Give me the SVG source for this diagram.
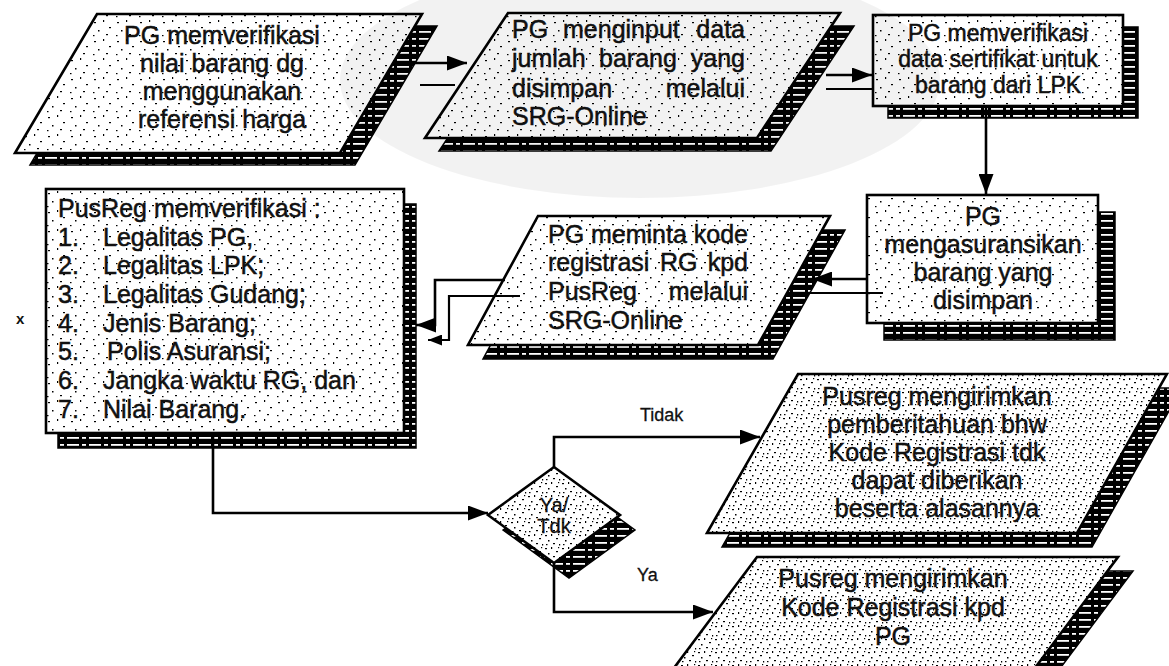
<svg xmlns="http://www.w3.org/2000/svg" width="1169" height="666" viewBox="0 0 1169 666">
<style>
  .t { font-family: "Liberation Sans", Arial, sans-serif; font-size: 25px; fill: #111; stroke: #111; stroke-width: 0.5px; }
  .t23 { font-family: "Liberation Sans", Arial, sans-serif; font-size: 23px; fill: #111; stroke: #111; stroke-width: 0.5px; }
  .lbl { font-family: "Liberation Sans", Arial, sans-serif; font-size: 18px; fill: #111; stroke: #111; stroke-width: 0.3px; }
  .c { text-anchor: middle; }
  .e { text-anchor: end; }
  .shape { stroke: #000; stroke-width: 2.6; stroke-linejoin: miter; }
  .base { fill: #fff; }
  .sp { fill: url(#speck); }
  .sp2 { fill: url(#speck2); }
  .sh { fill: url(#stripe); stroke: #000; stroke-width: 1.5; }
  .conn { fill: none; stroke: #000; stroke-width: 2.6; }
  .conn2 { fill: none; stroke: #000; stroke-width: 2.2; }
</style>
<defs>
  <pattern id="speck" width="23" height="19" patternUnits="userSpaceOnUse">
    <rect x="2" y="3" width="2" height="1.2" fill="#000"/>
    <rect x="11" y="1" width="1.2" height="2" fill="#000"/>
    <rect x="17" y="8" width="2" height="1.2" fill="#000"/>
    <rect x="6" y="11" width="1.5" height="1.5" fill="#000"/>
    <rect x="14" y="15" width="2" height="1.2" fill="#000"/>
    <rect x="1" y="16" width="1.5" height="1.2" fill="#000"/>
  </pattern>
  <pattern id="speck2" width="17" height="13" patternUnits="userSpaceOnUse">
    <rect x="1" y="2" width="2" height="1.2" fill="#000"/>
    <rect x="7" y="1" width="1.2" height="2" fill="#000"/>
    <rect x="12" y="5" width="2" height="1.2" fill="#000"/>
    <rect x="4" y="7" width="1.5" height="1.5" fill="#000"/>
    <rect x="9" y="10" width="2" height="1.2" fill="#000"/>
    <rect x="15" y="11" width="1.2" height="1.5" fill="#000"/>
    <rect x="2" y="11" width="1.5" height="1.2" fill="#000"/>
    <rect x="14" y="1" width="1.2" height="1.2" fill="#000"/>
  </pattern>
  <pattern id="stripe" width="22" height="7" patternUnits="userSpaceOnUse">
    <rect width="22" height="7" fill="#000"/>
    <rect x="1" y="3" width="12" height="1.8" fill="#fff"/>
    <rect x="16" y="3" width="4" height="1.8" fill="#fff"/>
  </pattern>
  <marker id="ah" viewBox="0 0 20 15" refX="20" refY="7.5" markerWidth="20" markerHeight="15" markerUnits="userSpaceOnUse" orient="auto">
    <path d="M0,0 L20,7.5 L0,15 z" fill="#000"/>
  </marker>
  <marker id="ah2" viewBox="0 0 14 11" refX="14" refY="5.5" markerWidth="14" markerHeight="11" markerUnits="userSpaceOnUse" orient="auto">
    <path d="M0,0 L14,5.5 L0,11 z" fill="#000"/>
  </marker>
</defs>
<rect width="1169" height="666" fill="#fff"/>

<g id="n1">
  <polygon class="sh" points="112,26 437,26 355,165 30,165"/>
  <polygon class="shape base" points="97,14 422,14 340,153 15,153"/>
  <polygon class="sp" points="97,14 422,14 340,153 15,153"/>
  <text class="t c" x="222" y="44">PG memverifikasi</text>
  <text class="t c" x="222" y="72">nilai barang dg</text>
  <text class="t c" x="222" y="100">menggunakan</text>
  <text class="t c" x="222" y="128">referensi harga</text>
</g>

<g id="n2">
  <polygon class="sh" points="522,26 854,26 771,151 439,151"/>
  <polygon class="shape base" points="508,13 840,13 757,138 425,138"/>
  <polygon class="sp" points="508,13 840,13 757,138 425,138"/>
  <text class="t" x="512" y="38">PG</text>
  <text class="t" x="563" y="38">menginput</text>
  <text class="t e" x="745" y="38">data</text>
  <text class="t" x="512" y="67">jumlah</text>
  <text class="t" x="599" y="67">barang</text>
  <text class="t e" x="745" y="67">yang</text>
  <text class="t" x="512" y="97">disimpan</text>
  <text class="t e" x="745" y="97">melalui</text>
  <text class="t" x="512" y="125">SRG-Online</text>
</g>

<g id="n3">
  <rect class="sh" x="888" y="27" width="250" height="91"/>
  <rect class="shape base" x="873" y="15" width="250" height="91"/>
  <rect class="sp" x="873" y="15" width="250" height="91"/>
  <text class="t23 c" x="998" y="41">PG memverifikasi</text>
  <text class="t23 c" x="998" y="67">data sertifikat untuk</text>
  <text class="t23 c" x="998" y="93">barang dari LPK</text>
</g>

<g id="n4">
  <rect class="sh" x="884" y="212" width="231" height="128"/>
  <rect class="shape base" x="867" y="195" width="231" height="128"/>
  <rect class="sp" x="867" y="195" width="231" height="128"/>
  <text class="t c" x="983" y="225">PG</text>
  <text class="t c" x="983" y="253">mengasuransikan</text>
  <text class="t c" x="983" y="281">barang yang</text>
  <text class="t c" x="983" y="309">disimpan</text>
</g>

<g id="n5">
  <rect class="sh" x="58" y="204" width="358" height="244"/>
  <rect class="shape base" x="46" y="189" width="358" height="244"/>
  <rect class="sp" x="46" y="189" width="358" height="244"/>
  <text class="t" x="58" y="217">PusReg memverifikasi :</text>
  <text class="t" x="58" y="246">1.</text><text class="t" x="103" y="246">Legalitas PG,</text>
  <text class="t" x="58" y="274">2.</text><text class="t" x="103" y="274">Legalitas LPK;</text>
  <text class="t" x="58" y="303">3.</text><text class="t" x="103" y="303">Legalitas Gudang;</text>
  <text class="t" x="58" y="332">4.</text><text class="t" x="103" y="332">Jenis Barang;</text>
  <text class="t" x="58" y="360">5.</text><text class="t" x="107" y="360">Polis Asuransi;</text>
  <text class="t" x="58" y="389">6.</text><text class="t" x="103" y="389">Jangka waktu RG, dan</text>
  <text class="t" x="58" y="418">7.</text><text class="t" x="103" y="418">Nilai Barang.</text>
</g>

<g id="n6">
  <polygon class="sh" points="553,230 845,230 773,359 483,359"/>
  <polygon class="shape base" points="538,216 830,216 758,345 468,345"/>
  <polygon class="sp" points="538,216 830,216 758,345 468,345"/>
  <text class="t" x="548" y="243">PG</text>
  <text class="t" x="591" y="243">meminta</text>
  <text class="t e" x="748" y="243">kode</text>
  <text class="t" x="548" y="271">registrasi</text>
  <text class="t" x="660" y="271">RG</text>
  <text class="t e" x="748" y="271">kpd</text>
  <text class="t" x="548" y="300">PusReg</text>
  <text class="t e" x="748" y="300">melalui</text>
  <text class="t" x="548" y="329">SRG-Online</text>
</g>

<g id="decision">
  <polygon class="sh" points="503,530 569,482 635,530 569,578"/>
  <polygon class="shape base" points="488,515 554,467 620,515 554,563"/>
  <polygon class="sp2" points="488,515 554,467 620,515 554,563"/>
  <text class="lbl c" x="554" y="512" style="font-size:20px">Ya/</text>
  <text class="lbl c" x="554" y="533" style="font-size:20px">Tdk</text>
</g>

<g id="n7">
  <polygon class="sh" points="813,388 1182,388 1092,547 722,547"/>
  <polygon class="shape base" points="798,374 1167,374 1077,533 707,533"/>
  <polygon class="sp2" points="798,374 1167,374 1077,533 707,533"/>
  <text class="t c" x="937" y="405">Pusreg mengirimkan</text>
  <text class="t c" x="937" y="433">pemberitahuan bhw</text>
  <text class="t c" x="937" y="461">Kode Registrasi tdk</text>
  <text class="t c" x="937" y="489">dapat diberikan</text>
  <text class="t c" x="937" y="517">beserta alasannya</text>
</g>

<g id="n8">
  <polygon class="sh" points="772,571 1133,571 1011,734 650,734"/>
  <polygon class="shape base" points="757,557 1118,557 996,720 635,720"/>
  <polygon class="sp2" points="757,557 1118,557 996,720 635,720"/>
  <text class="t c" x="893" y="587">Pusreg mengirimkan</text>
  <text class="t c" x="893" y="616">Kode Registrasi kpd</text>
  <text class="t c" x="893" y="645">PG</text>
</g>

<g id="connectors">
  <path class="conn" d="M410,63 H467" marker-end="url(#ah)"/>
  <path class="conn2" d="M420,85 H455"/>
  <path class="conn" d="M826,75 H872" marker-end="url(#ah)"/>
  <path class="conn2" d="M826,89 H873"/>
  <path class="conn" d="M986,106 V194" marker-end="url(#ah)"/>
  <path class="conn" d="M867,279 H812" marker-end="url(#ah)"/>
  <path class="conn2" d="M883,293 H796"/>
  <path class="conn" d="M505,280 H435 V325 H416" marker-end="url(#ah)"/>
  <path class="conn2" d="M520,296 H449 V340 H428" marker-end="url(#ah2)"/>
  <path class="conn" d="M213,433 V513 H488" marker-end="url(#ah)"/>
  <path class="conn" d="M554,467 V437 H760" marker-end="url(#ah)"/>
  <path class="conn" d="M554,563 V612 H713" marker-end="url(#ah)"/>
  <text class="lbl" x="640" y="421">Tidak</text>
  <text class="lbl" x="637" y="581">Ya</text>
</g>

<text x="16" y="324" style="font-family:'Liberation Sans',Arial,sans-serif;font-size:15px;font-weight:bold;fill:#111">x</text>

<ellipse cx="640" cy="80" rx="300" ry="118" fill="#000" fill-opacity="0.05"/>
</svg>
